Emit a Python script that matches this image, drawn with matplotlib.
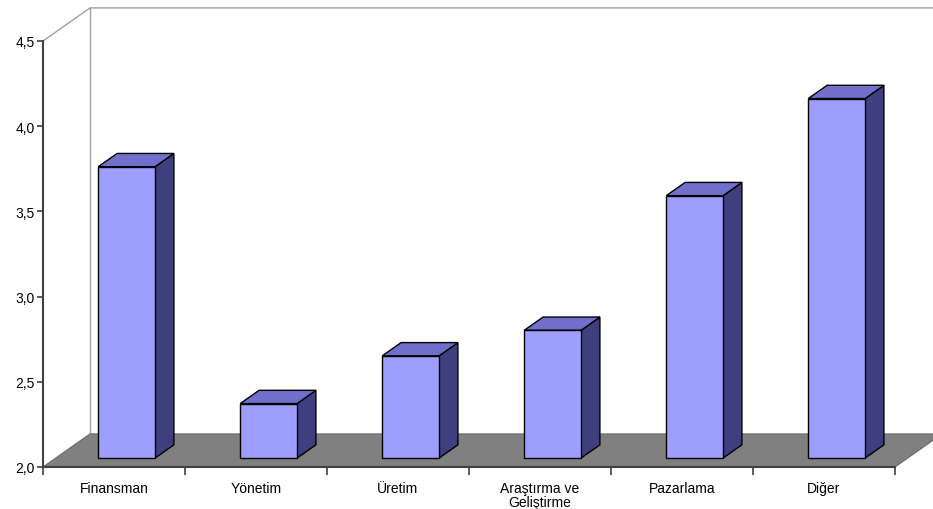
import numpy as np
import matplotlib.pyplot as plt
from matplotlib.patches import Polygon

# data
categories = ['Finansman', 'Yönetim', 'Üretim', 'Araştırma ve\nGeliştirme', 'Pazarlama', 'Diğer']
values = [3.71, 2.32, 2.60, 2.75, 3.54, 4.11]
yticks = [2.0, 2.5, 3.0, 3.5, 4.0, 4.5]
ytick_labels = ['2,0', '2,5', '3,0', '3,5', '4,0', '4,5']

plt.rcParams['font.family'] = ['Liberation Sans', 'DejaVu Sans']

fig = plt.figure(figsize=(9.33, 5.10), dpi=100)
ax = fig.add_axes([43 / 933, 42 / 510, 852 / 933, 426 / 510])
ax.set_xlim(-0.5, 5.5)
ax.set_ylim(2.0, 4.5)

# depth of the fake 3D box (data units)
DX, DY = 47 / 142, 33 / 170
y0 = ax.get_ylim()[0]
ytop = ax.get_ylim()[1]
xl, xr = ax.get_xlim()

# back wall
ax.plot([xl, xl + DX, xr + DX], [ytop, ytop + DY, ytop + DY], color='#a0a0a0', lw=1, clip_on=False, zorder=1)
ax.plot([xl + DX, xl + DX], [y0 + DY, ytop + DY], color='#a0a0a0', lw=1, clip_on=False, zorder=1)

# floor
floor = Polygon([(xl, y0), (xr, y0), (xr + DX, y0 + DY), (xl + DX, y0 + DY)],
                closed=True, facecolor='#808080', edgecolor='#6a6a6a', lw=0.8, clip_on=False, zorder=1)
ax.add_patch(floor)

# bars
w = 0.4          # bar width
f0 = 0.27        # depth position of bar front
bd = 0.4         # bar depth fraction
for i, v in enumerate(values):
    x0 = i - w / 2 + f0 * DX
    b = y0 + f0 * DY
    t = v + f0 * DY
    bx, by = bd * DX, bd * DY
    front = Polygon([(x0, b), (x0 + w, b), (x0 + w, t), (x0, t)],
                    facecolor='#9e9eff', edgecolor='black', lw=1, clip_on=False, zorder=3)
    top = Polygon([(x0, t), (x0 + w, t), (x0 + w + bx, t + by), (x0 + bx, t + by)],
                  facecolor='#7070cc', edgecolor='black', lw=1, clip_on=False, zorder=3)
    side = Polygon([(x0 + w, b), (x0 + w + bx, b + by), (x0 + w + bx, t + by), (x0 + w, t)],
                   facecolor='#3f3f7f', edgecolor='black', lw=1, clip_on=False, zorder=3)
    for p in (side, top, front):
        ax.add_patch(p)

# axes
for s in ['top', 'right']:
    ax.spines[s].set_visible(False)
for s in ['left', 'bottom']:
    ax.spines[s].set_color('#404040')
    ax.spines[s].set_linewidth(1.5)
    ax.spines[s].set_zorder(2)

ax.set_yticks(yticks)
ax.set_yticklabels(ytick_labels)
ax.tick_params(axis='y', length=4.5, width=1.2, color='#404040', pad=1.5, labelsize=10)

ax.set_xticks(np.arange(-0.5, 6.0, 1.0))
ax.set_xticklabels([])
ax.tick_params(axis='x', which='major', length=6, width=1.2, color='#404040')
ax.set_xticks(np.arange(len(categories)), minor=True)
ax.set_xticklabels(categories, minor=True, fontsize=10, linespacing=1.0)
ax.tick_params(axis='x', which='minor', length=0, pad=10)

ax.set_facecolor('none')
fig.savefig('out.png', dpi=100)
